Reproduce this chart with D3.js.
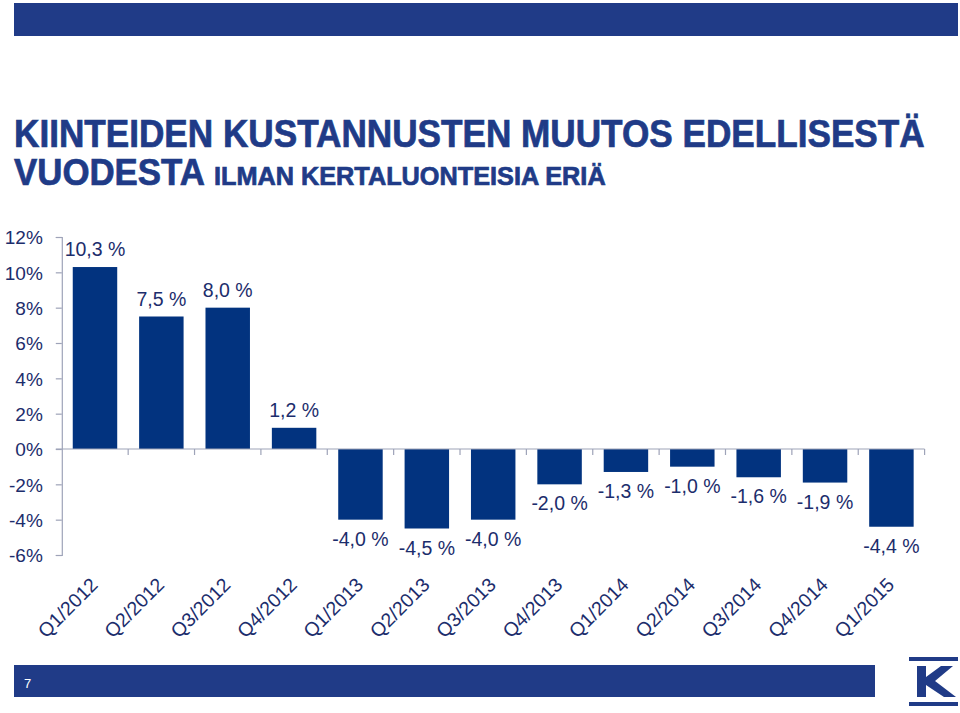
<!DOCTYPE html>
<html>
<head>
<meta charset="utf-8">
<script src="https://cdn.jsdelivr.net/npm/d3@7/dist/d3.min.js"></script>
<style>
  html, body { margin: 0; padding: 0; background: #ffffff; }
  svg { display: block; }
</style>
</head>
<body>
<svg id="chart" width="960" height="713"></svg>
<script>
// ---- data ----
const categories = ["Q1/2012","Q2/2012","Q3/2012","Q4/2012","Q1/2013","Q2/2013","Q3/2013","Q4/2013","Q1/2014","Q2/2014","Q3/2014","Q4/2014","Q1/2015"];
const values = [10.3, 7.5, 8.0, 1.2, -4.0, -4.5, -4.0, -2.0, -1.3, -1.0, -1.6, -1.9, -4.4];
const valueLabels = ["10,3 %","7,5 %","8,0 %","1,2 %","-4,0 %","-4,5 %","-4,0 %","-2,0 %","-1,3 %","-1,0 %","-1,6 %","-1,9 %","-4,4 %"];
const yTicks = [-6, -4, -2, 0, 2, 4, 6, 8, 10, 12];
const titleLine1 = "KIINTEIDEN KUSTANNUSTEN MUUTOS EDELLISESTÄ";
const titleLine2a = "VUODESTA";
const titleLine2b = "ILMAN KERTALUONTEISIA ERIÄ";
const pageNumber = "7";

// ---- styles ----
const bandColor = "#203b87";
const barColor = "#02337f";
const textColor = "#1c2d6c";
const axisColor = "#9ea3b8";
const font = "'Liberation Sans', Arial, Helvetica, sans-serif";

const svg = d3.select("#chart");

// top band
svg.append("rect").attr("x", 14).attr("y", 3).attr("width", 944).attr("height", 33).attr("fill", bandColor);

// title: fit each piece to its measured width using a horizontal scale
function fittedText(str, x0, y0, size, width) {
  const t = svg.append("text")
    .attr("font-family", font).attr("font-weight", "bold").attr("font-size", size)
    .attr("fill", bandColor).attr("stroke", bandColor).attr("stroke-width", 0.7)
    .attr("x", 0).attr("y", 0)
    .text(str);
  const w = t.node().getComputedTextLength();
  t.attr("transform", `translate(${x0},${y0}) scale(${width / w},1)`);
  return t;
}
fittedText(titleLine1, 14, 147, 38, 911);
fittedText(titleLine2a, 14, 185, 37, 191);
fittedText(titleLine2b, 214, 185, 26, 392);

// scales
const x = d3.scaleBand().domain(categories).range([61.8, 924.6]).paddingInner(0.33).paddingOuter(0.165);
const y = d3.scaleLinear().domain([-6, 12]).range([555, 237]);
const step = x.step();
const x0 = 61.8;

// y axis
const yAxis = d3.axisLeft(y).tickValues(yTicks).tickSize(6).tickFormat(d => d + "%");
const gy = svg.append("g").attr("transform", `translate(${x0},0)`).call(yAxis);
gy.select(".domain").attr("stroke", axisColor).attr("stroke-width", 1.2);
gy.selectAll(".tick line").attr("stroke", axisColor).attr("stroke-width", 1.2);
gy.selectAll(".tick text").attr("font-family", font).attr("font-size", 19)
  .attr("fill", textColor).attr("x", -19).attr("dy", "0.36em");

// bars
svg.append("g").selectAll("rect").data(values).join("rect")
  .attr("x", (d, i) => x(categories[i]))
  .attr("width", x.bandwidth())
  .attr("y", d => y(Math.max(0, d)))
  .attr("height", d => Math.abs(y(d) - y(0)))
  .attr("fill", barColor);

// x axis (zero line with ticks at category boundaries)
const boundaries = d3.range(categories.length + 1).map(i => x0 + i * step);
svg.append("line").attr("x1", x0 - 6).attr("x2", boundaries[boundaries.length - 1])
  .attr("y1", y(0)).attr("y2", y(0)).attr("stroke", axisColor).attr("stroke-width", 1.2);
svg.append("g").selectAll("line").data(boundaries.slice(1)).join("line")
  .attr("x1", d => d).attr("x2", d => d)
  .attr("y1", y(0)).attr("y2", y(0) + 6)
  .attr("stroke", axisColor).attr("stroke-width", 1.2);

// value labels
svg.append("g").selectAll("text").data(values).join("text")
  .attr("x", (d, i) => x(categories[i]) + x.bandwidth() / 2)
  .attr("y", d => d >= 0 ? y(d) - 11 : y(d) + 26)
  .attr("text-anchor", "middle")
  .attr("font-family", font).attr("font-size", 19.5)
  .attr("fill", textColor)
  .text((d, i) => valueLabels[i]);

// category labels (rotated)
svg.append("g").selectAll("text").data(categories).join("text")
  .attr("transform", d => `translate(${x(d) + x.bandwidth() / 2 + 4},586) rotate(-45)`)
  .attr("text-anchor", "end")
  .attr("font-family", font).attr("font-size", 19.5)
  .attr("fill", textColor)
  .text(d => d);

// bottom band
svg.append("rect").attr("x", 14).attr("y", 665).attr("width", 861).attr("height", 32).attr("fill", bandColor);
svg.append("text").attr("x", 24).attr("y", 688)
  .attr("font-family", font).attr("font-size", 13).attr("fill", "#ffffff").text(pageNumber);

// logo
const logo = svg.append("g").attr("fill", bandColor);
logo.append("rect").attr("x", 909).attr("y", 657).attr("width", 49).attr("height", 4);
logo.append("rect").attr("x", 909).attr("y", 702).attr("width", 49).attr("height", 4);
logo.append("rect").attr("x", 917).attr("y", 666).attr("width", 9).attr("height", 31);
logo.append("polygon").attr("points", "926,677 941,666 953,666 935,681 956,697 944,697 926,685");
</script>
</body>
</html>
